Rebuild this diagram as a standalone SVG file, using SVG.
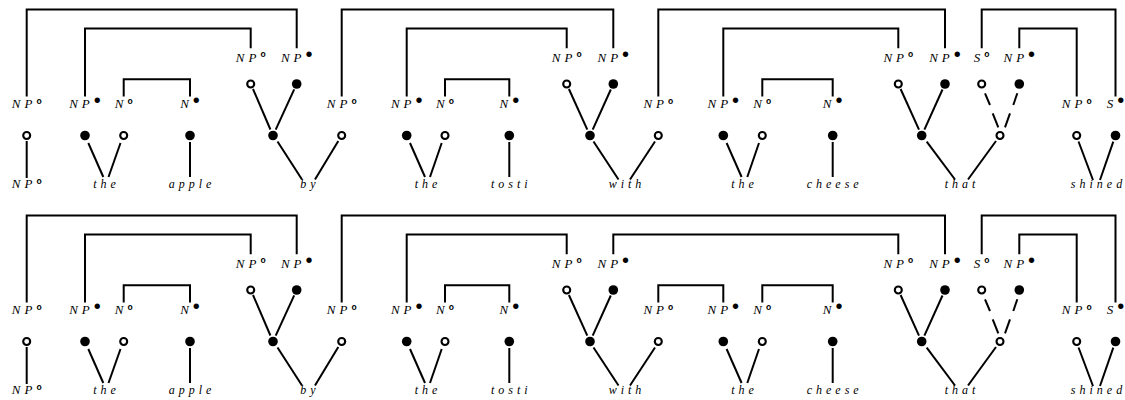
<svg xmlns="http://www.w3.org/2000/svg" width="1125" height="400" viewBox="0 0 1125 400">
<style>
  .ln { stroke: #000; stroke-width: 2; fill: none; stroke-linecap: butt; }
  .f { fill: #000; }
  .o { fill: #fff; stroke: #000; stroke-width: 2.1; }
  .lab { font-family: "Liberation Serif", serif; font-style: italic; font-size: 13px; letter-spacing: 4px; text-anchor: middle; fill: #000; }
  .so { font-family: "Liberation Sans", sans-serif; font-style: normal; font-weight: bold; font-size: 8.5px; letter-spacing: 0; }
  .sf { font-family: "Liberation Sans", sans-serif; font-style: normal; font-size: 20px; letter-spacing: 0; }
  .w { font-family: "Liberation Serif", serif; font-style: italic; font-size: 12px; letter-spacing: 4px; text-anchor: middle; fill: #000; }
</style>
<defs>
  <!-- lexical items shared by both derivations -->
  <g id="words">
    <g id="np-item">
      <text class="lab" x="26.7" y="108">NP<tspan class="so" dy="-4.2">o</tspan></text>
      <circle class="o" cx="26.7" cy="135.5" r="3.5"/>
      <line class="ln" x1="26.7" y1="141" x2="26.7" y2="178"/>
      <text class="lab" x="26.7" y="188">NP<tspan class="so" dy="-4.2">o</tspan></text>
    </g>
    <g id="the-1">
      <text class="lab" x="85" y="108">NP<tspan class="sf" dy="-0.6">•</tspan></text>
      <text class="lab" x="123.7" y="108">N<tspan class="so" dy="-4.2">o</tspan></text>
      <circle class="f" cx="85" cy="135.5" r="4.8"/>
      <circle class="o" cx="123.7" cy="135.5" r="3.5"/>
      <line class="ln" x1="88.3" y1="143" x2="103.3" y2="177"/>
      <line class="ln" x1="120.5" y1="143" x2="108.5" y2="177"/>
      <text class="w" x="106.5" y="187.5">the</text>
    </g>
    <g id="apple">
      <text class="lab" x="190" y="108">N<tspan class="sf" dy="-0.6">•</tspan></text>
      <circle class="f" cx="190" cy="135.5" r="4.8"/>
      <line class="ln" x1="190" y1="142" x2="190" y2="177"/>
      <text class="w" x="192" y="187.5">apple</text>
    </g>
    <g id="by">
      <text class="lab" x="250.7" y="61.5">NP<tspan class="so" dy="-4.2">o</tspan></text>
      <text class="lab" x="296.7" y="61.5">NP<tspan class="sf" dy="-0.6">•</tspan></text>
      <circle class="o" cx="250.7" cy="84" r="3.5"/>
      <circle class="f" cx="296.7" cy="84" r="4.8"/>
      <line class="ln" x1="253" y1="89" x2="270.4" y2="129.5"/>
      <line class="ln" x1="294.2" y1="89.4" x2="275.7" y2="129.6"/>
      <circle class="f" cx="273" cy="135.5" r="4.8"/>
      <text class="lab" x="341.7" y="108">NP<tspan class="so" dy="-4.2">o</tspan></text>
      <circle class="o" cx="341.7" cy="135.5" r="3.5"/>
      <line class="ln" x1="277.5" y1="141.5" x2="302" y2="179.5"/>
      <line class="ln" x1="338.3" y1="141" x2="315" y2="179.5"/>
      <text class="w" x="310" y="187.5">by</text>
    </g>
    <g id="the-2">
      <text class="lab" x="406.7" y="108">NP<tspan class="sf" dy="-0.6">•</tspan></text>
      <text class="lab" x="445" y="108">N<tspan class="so" dy="-4.2">o</tspan></text>
      <circle class="f" cx="406.7" cy="135.5" r="4.8"/>
      <circle class="o" cx="445" cy="135.5" r="3.5"/>
      <line class="ln" x1="410" y1="143" x2="425" y2="177"/>
      <line class="ln" x1="441.7" y1="143" x2="430" y2="177"/>
      <text class="w" x="428" y="187.5">the</text>
    </g>
    <g id="tosti">
      <text class="lab" x="509.3" y="108">N<tspan class="sf" dy="-0.6">•</tspan></text>
      <circle class="f" cx="509.3" cy="135.5" r="4.8"/>
      <line class="ln" x1="509.3" y1="142" x2="509.3" y2="177"/>
      <text class="w" x="511.3" y="187.5">tosti</text>
    </g>
    <g id="with">
      <text class="lab" x="566.7" y="61.5">NP<tspan class="so" dy="-4.2">o</tspan></text>
      <text class="lab" x="613.3" y="61.5">NP<tspan class="sf" dy="-0.6">•</tspan></text>
      <circle class="o" cx="566.7" cy="84" r="3.5"/>
      <circle class="f" cx="613.3" cy="84" r="4.8"/>
      <line class="ln" x1="568.9" y1="89" x2="587.3" y2="129.6"/>
      <line class="ln" x1="610.8" y1="89.5" x2="592.7" y2="129.6"/>
      <circle class="f" cx="590" cy="135.5" r="4.8"/>
      <text class="lab" x="658.3" y="108">NP<tspan class="so" dy="-4.2">o</tspan></text>
      <circle class="o" cx="658.3" cy="135.5" r="3.5"/>
      <line class="ln" x1="593.5" y1="141.5" x2="618.5" y2="179.5"/>
      <line class="ln" x1="655" y1="141.5" x2="630" y2="179.5"/>
      <text class="w" x="627" y="187.5">with</text>
    </g>
    <g id="the-3">
      <text class="lab" x="723.3" y="108">NP<tspan class="sf" dy="-0.6">•</tspan></text>
      <text class="lab" x="762.3" y="108">N<tspan class="so" dy="-4.2">o</tspan></text>
      <circle class="f" cx="723.3" cy="135.5" r="4.8"/>
      <circle class="o" cx="762.3" cy="135.5" r="3.5"/>
      <line class="ln" x1="726.6" y1="143" x2="741.6" y2="177"/>
      <line class="ln" x1="759" y1="143" x2="747.3" y2="177"/>
      <text class="w" x="744.5" y="187.5">the</text>
    </g>
    <g id="cheese">
      <text class="lab" x="832.7" y="108">N<tspan class="sf" dy="-0.6">•</tspan></text>
      <circle class="f" cx="832.7" cy="135.5" r="4.8"/>
      <line class="ln" x1="832.7" y1="142" x2="832.7" y2="177"/>
      <text class="w" x="834.7" y="187.5">cheese</text>
    </g>
    <g id="that">
      <text class="lab" x="898.3" y="61.5">NP<tspan class="so" dy="-4.2">o</tspan></text>
      <text class="lab" x="945" y="61.5">NP<tspan class="sf" dy="-0.6">•</tspan></text>
      <text class="lab" x="981.7" y="61.5">S<tspan class="so" dy="-4.2">o</tspan></text>
      <text class="lab" x="1019.3" y="61.5">NP<tspan class="sf" dy="-0.6">•</tspan></text>
      <circle class="o" cx="898.3" cy="84" r="3.5"/>
      <circle class="f" cx="945" cy="84" r="4.8"/>
      <circle class="o" cx="981.7" cy="84" r="3.5"/>
      <circle class="f" cx="1019.3" cy="84" r="4.8"/>
      <line class="ln" x1="900.6" y1="89" x2="919" y2="129.6"/>
      <line class="ln" x1="942.5" y1="89.5" x2="924.4" y2="129.6"/>
      <!-- broken links into the relative clause node -->
      <line class="ln" x1="985" y1="93.3" x2="990" y2="105"/>
      <line class="ln" x1="992.7" y1="113.3" x2="998.3" y2="127.3"/>
      <line class="ln" x1="1017.3" y1="93.3" x2="1013.3" y2="105"/>
      <line class="ln" x1="1010" y1="113.3" x2="1005" y2="127.3"/>
      <circle class="f" cx="921.7" cy="135.5" r="4.8"/>
      <circle class="o" cx="1000" cy="135.5" r="3.5"/>
      <line class="ln" x1="926.7" y1="141.7" x2="955" y2="179.5"/>
      <line class="ln" x1="996" y1="141" x2="968" y2="179.5"/>
      <text class="w" x="962" y="187.5">that</text>
    </g>
    <g id="shined">
      <text class="lab" x="1076.7" y="108">NP<tspan class="so" dy="-4.2">o</tspan></text>
      <text class="lab" x="1115.5" y="108">S<tspan class="sf" dy="-0.6">•</tspan></text>
      <circle class="o" cx="1076.7" cy="135.5" r="3.5"/>
      <circle class="f" cx="1115.5" cy="135.5" r="4.8"/>
      <line class="ln" x1="1078.5" y1="141.5" x2="1093" y2="180"/>
      <line class="ln" x1="1113.3" y1="141.7" x2="1100" y2="180"/>
      <text class="w" x="1098.5" y="187.5">shined</text>
    </g>
  </g>
</defs>

<!-- first derivation -->
<g id="derivation-1">
  <use id="items-1" href="#words"/>
  <g id="links-1" class="ln">
    <path d="M26.7,96.5 V9.5 H296.7 V48.3"/>
    <path d="M85,96.5 V28.5 H250.7 V48.3"/>
    <path d="M123.7,96.5 V79.3 H190 V96.5"/>
    <path d="M341.7,96.5 V9.5 H613.3 V48.3"/>
    <path d="M406.7,96.5 V28.5 H566.7 V48.3"/>
    <path d="M445,96.5 V79.3 H509.3 V96.5"/>
    <path d="M658.3,96.5 V9.5 H945 V48.3"/>
    <path d="M723.3,96.5 V28.5 H898.3 V48.3"/>
    <path d="M762.3,96.5 V79.3 H832.7 V96.5"/>
    <path d="M981.7,48.3 V9.5 H1115.5 V96.5"/>
    <path d="M1019.3,48.3 V28.5 H1076.7 V96.5"/>
  </g>
</g>

<!-- second derivation -->
<g id="derivation-2" transform="translate(0,206)">
  <use id="items-2" href="#words"/>
  <g id="links-2" class="ln">
    <path d="M26.7,96.5 V9.5 H296.7 V48.3"/>
    <path d="M85,96.5 V28.5 H250.7 V48.3"/>
    <path d="M123.7,96.5 V79.3 H190 V96.5"/>
    <path d="M341.7,96.5 V9.5 H945 V48.3"/>
    <path d="M406.7,96.5 V28.5 H566.7 V48.3"/>
    <path d="M445,96.5 V79.3 H509.3 V96.5"/>
    <path d="M613.3,48.3 V28.5 H898.3 V48.3"/>
    <path d="M658.3,96.5 V79.3 H723.3 V96.5"/>
    <path d="M762.3,96.5 V79.3 H832.7 V96.5"/>
    <path d="M981.7,48.3 V9.5 H1115.5 V96.5"/>
    <path d="M1019.3,48.3 V28.5 H1076.7 V96.5"/>
  </g>
</g>
</svg>
